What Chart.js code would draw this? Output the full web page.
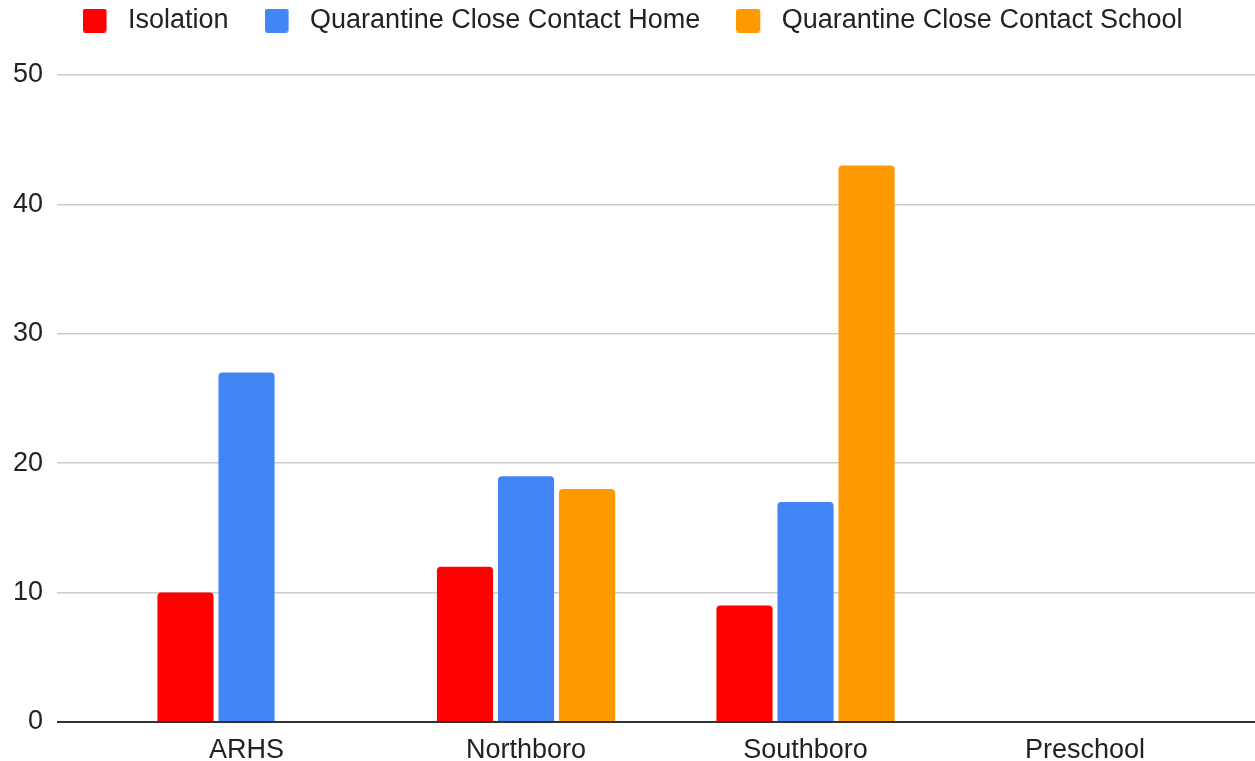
<!DOCTYPE html>
<html>
<head>
<meta charset="utf-8">
<script src="https://cdn.jsdelivr.net/npm/chart.js@4"></script>
<style>
html,body{margin:0;padding:0;background:#fff;}
#wrap{width:1255px;height:761px;position:relative;}
</style>
</head>
<body>
<div id="wrap"><canvas id="c"></canvas></div>
<script>
const categories = ["ARHS", "Northboro", "Southboro", "Preschool"];
const seriesNames = ["Isolation", "Quarantine Close Contact Home", "Quarantine Close Contact School"];
const isolation = [10, 12, 9, 0];
const closeContactHome = [27, 19, 17, 0];
const closeContactSchool = [0, 18, 43, 0];
const yTicks = [0, 10, 20, 30, 40, 50];

const colors = ["#ff0000", "#4285f4", "#ff9900"];
const FONT = "'Liberation Sans', Arial, Helvetica, sans-serif";
const FS = 27;
const SWATCH_SLOT = 32;

function toPoints(arr){ return arr.map((v,i)=>({x:i, y:v})); }

// legend swatch: rounded square at left of a slightly wider transparent slot
function swatch(color){
  const cv = document.createElement('canvas');
  cv.width = SWATCH_SLOT; cv.height = 24;
  const g = cv.getContext('2d');
  g.fillStyle = color;
  g.beginPath();
  if (g.roundRect) g.roundRect(0, 0, 24, 24, 3); else g.rect(0, 0, 24, 24);
  g.fill();
  return cv;
}

const datasets = [isolation, closeContactHome, closeContactSchool].map((arr, k) => ({
  label: seriesNames[k],
  data: toPoints(arr),
  backgroundColor: colors[k],
  pointStyle: swatch(colors[k]),
  borderWidth: 0,
  borderRadius: {topLeft: 4, topRight: 4, bottomLeft: 0, bottomRight: 0},
  borderSkipped: 'start',
  categoryPercentage: 0.655,
  barPercentage: 0.92
}));

const legendFix = {
  id: 'legendFix',
  beforeInit(chart) {
    const lg = chart.legend;
    if (!lg) return;
    const origFit = lg.fit;
    lg.fit = function() {
      origFit.call(this);
      this.height = 104;
    };
  },
  afterLayout(chart) {
    if (chart.legend) chart.legend.left += 10;
  }
};

new Chart(document.getElementById('c'), {
  type: 'bar',
  data: { datasets },
  plugins: [legendFix],
  options: {
    responsive: true,
    maintainAspectRatio: false,
    animation: false,
    layout: { padding: { left: 0, right: 0, top: -29, bottom: 0 } },
    plugins: {
      tooltip: { enabled: false },
      legend: {
        position: 'top',
        align: 'center',
        labels: {
          font: { family: FONT, size: FS },
          color: '#222',
          usePointStyle: true,
          pointStyleWidth: SWATCH_SLOT,
          boxHeight: 24,
          padding: 36
        }
      }
    },
    scales: {
      x: {
        type: 'linear',
        offset: false,
        min: -0.678,
        max: 3.608,
        afterBuildTicks: (s) => { s.ticks = categories.map((_, i) => ({ value: i })); },
        afterFit: (s) => { s.height = 39; },
        ticks: {
          callback: (v) => categories[v],
          font: { family: FONT, size: FS },
          color: '#222',
          padding: 12,
          autoSkip: false,
          maxRotation: 0
        },
        grid: { display: false, drawTicks: false, offset: false },
        border: { display: false }
      },
      y: {
        min: 0,
        max: 50,
        afterFit: (s) => { s.width = 57; },
        afterBuildTicks: (s) => { s.ticks = yTicks.map(v => ({ value: v })); },
        ticks: {
          font: { family: FONT, size: FS },
          color: '#222',
          padding: 14
        },
        grid: {
          drawTicks: false,
          color: (ctx) => ctx.tick && ctx.tick.value === 0 ? '#333333' : '#cccccc',
          lineWidth: (ctx) => ctx.tick && ctx.tick.value === 0 ? 2 : 1.5
        },
        border: { display: false }
      }
    }
  }
});
</script>
</body>
</html>
